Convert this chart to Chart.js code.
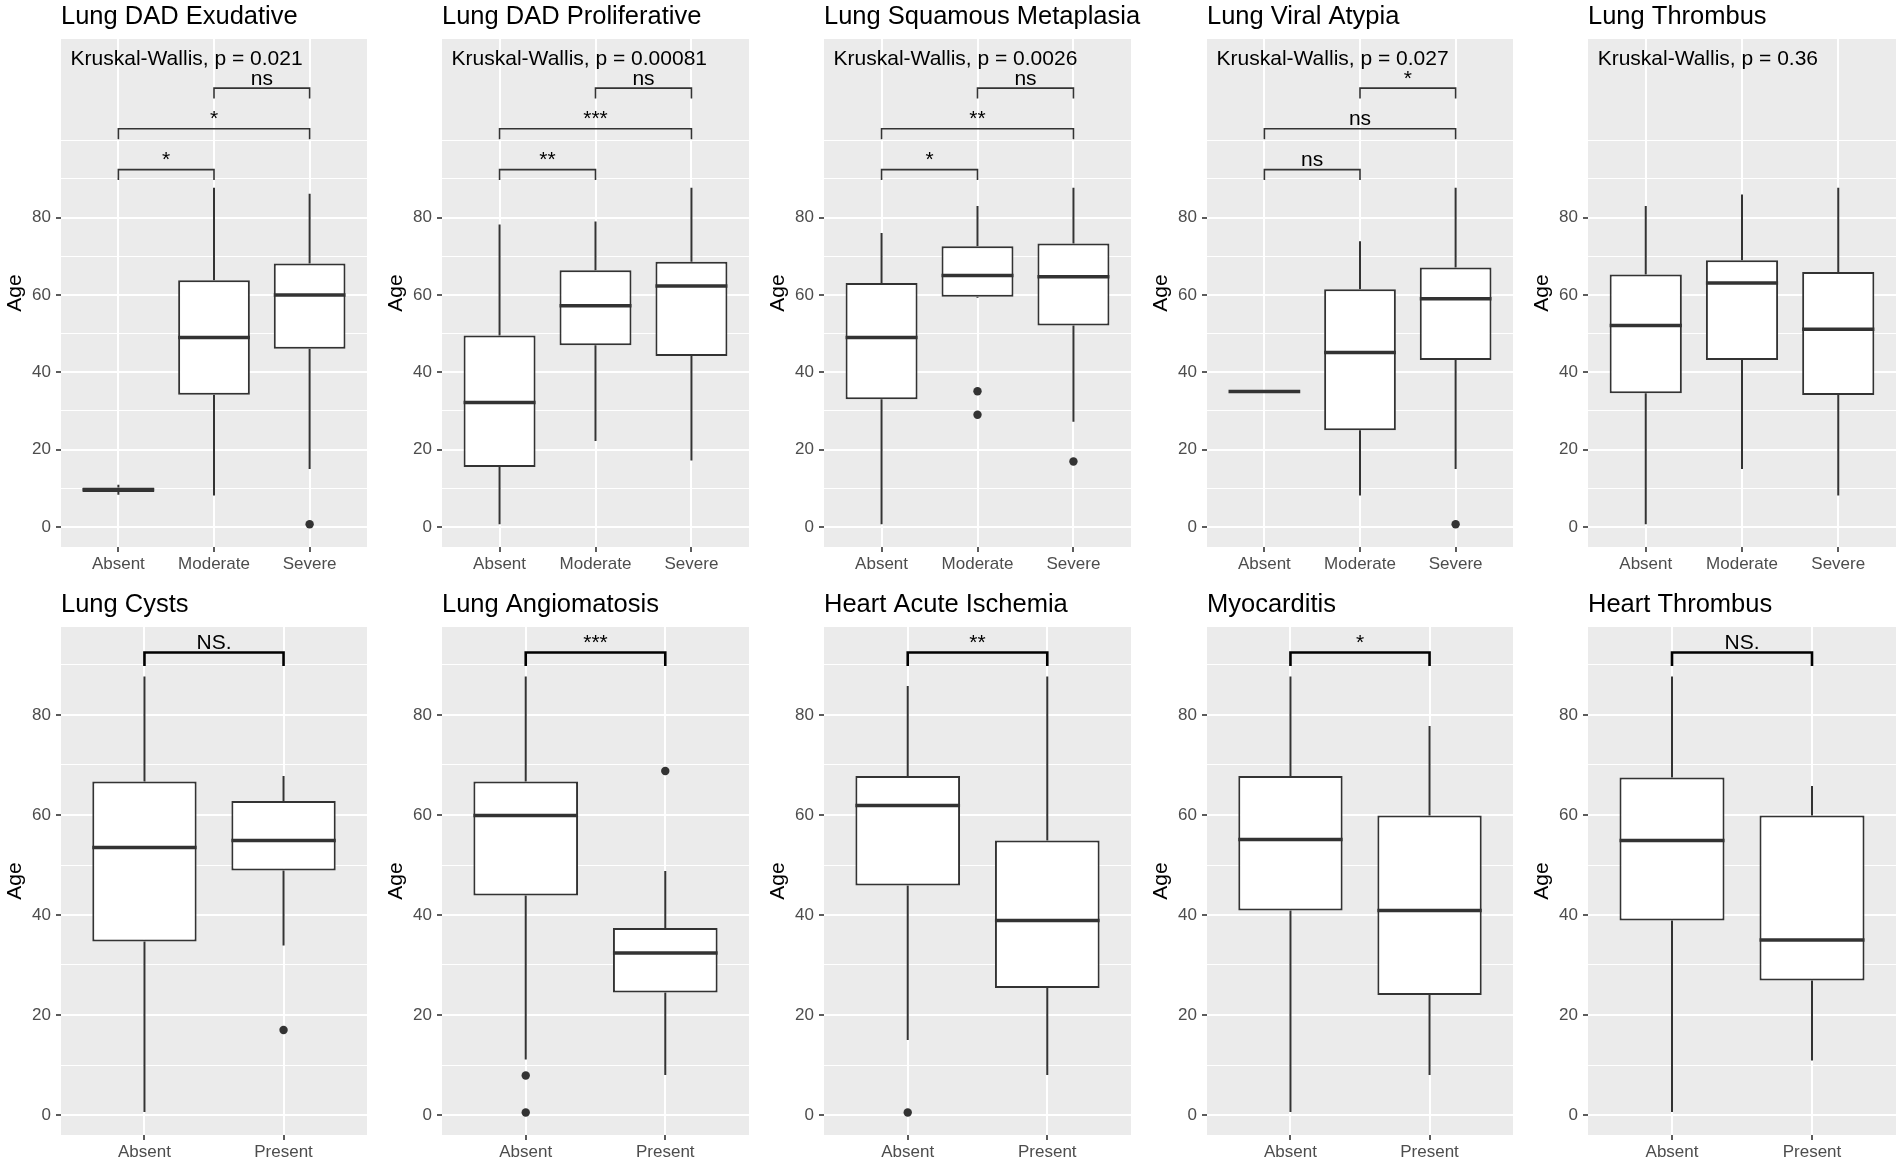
<!DOCTYPE html>
<html><head><meta charset="utf-8">
<script src="https://cdn.jsdelivr.net/npm/chart.js@4.4.1/dist/chart.umd.min.js"></script>
<style>
html,body{margin:0;padding:0;background:#fff;width:1902px;height:1163px;overflow:hidden;}
canvas{position:absolute;}
</style></head><body>
<script>
// ---------- data ----------
const panelTitles = ['Lung DAD Exudative','Lung DAD Proliferative','Lung Squamous Metaplasia','Lung Viral Atypia','Lung Thrombus',
                     'Lung Cysts','Lung Angiomatosis','Heart Acute Ischemia','Myocarditis','Heart Thrombus'];
const topGroups = ['Absent','Moderate','Severe'];
const bottomGroups = ['Absent','Present'];
const yTickValues = [0,20,40,60,80];
const yGridValues = [0,10,20,30,40,50,60,70,80,90,100];
const yLimitsTop = [-5.2, 126.2];
const yLimitsBottom = [-4, 97.6];

const whiskerLow = [[8.3,8.1,15.0],[0.7,22.2,17.2],[0.7,59.3,27.2],[35,8.1,15.0],[0.7,15.0,8.1],
                    [0.6,33.9],[11.1,8.0],[15.0,8.0],[0.6,8.0],[0.6,10.9]];
const boxQ1 = [[9.0,34.2,46.1],[15.5,47.0,44.2],[33.0,59.5,52.1],[35,25.0,43.2],[34.6,43.2,34.1],
               [34.7,48.9],[43.9,24.5],[45.9,25.4],[40.9,24.0],[38.9,26.9]];
const boxMedian = [[9.6,49.0,60.0],[32.2,57.2,62.3],[49.0,65.0,64.7],[35,45.1,59.0],[52.1,63.1,51.1],
                   [53.5,54.9],[59.9,32.4],[61.9,38.9],[55.1,40.9],[54.9,35.0]];
const boxQ3 = [[10.2,63.8,68.1],[49.5,66.4,68.6],[63.1,72.6,73.3],[35,61.5,67.1],[65.3,69.0,65.9],
               [66.7,62.8],[66.7,37.4],[67.8,54.9],[67.8,59.9],[67.5,59.9]];
const whiskerHigh = [[10.9,87.7,86.2],[78.2,79.0,87.7],[76.0,83.0,87.7],[35,73.9,87.7],[83.0,86.0,87.7],
                     [87.7,67.8],[87.7,48.8],[85.8,87.7],[87.7,77.8],[87.7,65.8]];
const outlierGroup = [[3],[],[2,2,3],[3],[],[2],[1,1,2],[1],[],[]];
const outlierAge = [[0.7],[],[35.1,29.0,16.9],[0.7],[],[17],[7.9,0.5,68.8],[0.5],[],[]];

const kwLabels = ['Kruskal-Wallis, p = 0.021','Kruskal-Wallis, p = 0.00081','Kruskal-Wallis, p = 0.0026',
                  'Kruskal-Wallis, p = 0.027','Kruskal-Wallis, p = 0.36'];
const kwPosition = [0.5, 119.5];

const bracketFrom = [[1,1,2],[1,1,2],[1,1,2],[1,1,2],[],[1],[1],[1],[1],[1]];
const bracketTo   = [[2,3,3],[2,3,3],[2,3,3],[2,3,3],[],[2],[2],[2],[2],[2]];
const bracketY    = [[92.4,103,113.5],[92.4,103,113.5],[92.4,103,113.5],[92.4,103,113.5],[],
                     [92.5],[92.5],[92.5],[92.5],[92.5]];
const bracketText = [['*','*','ns'],['**','***','ns'],['*','**','ns'],['ns','ns','*'],[],
                     ['NS.'],['***'],['**'],['*'],['NS.']];
const bracketTip = 2.7;

// ---------- layout / style ----------
const FONT = '"Liberation Sans", Arial, sans-serif';
Chart.defaults.font.family = FONT;
const plotLefts = [61,442,824,1207,1588];
const plotWidths = [306,307,307,306,308];
const yAxisW = 61;
const rightRoom = [18,18,18,18,4];

const boxPlugin = {
  id: 'boxExtras',
  beforeDraw(chart) {
    const {ctx, chartArea: a} = chart;
    ctx.save();
    ctx.fillStyle = '#EBEBEB';
    ctx.fillRect(a.left, a.top, a.right - a.left, a.bottom - a.top);
    ctx.restore();
  },
  beforeDatasetsDraw(chart, args, opts) {
    const p = opts.panel;
    const {ctx} = chart, xs = chart.scales.x, ys = chart.scales.y;
    ctx.save();
    ctx.strokeStyle = '#333333'; ctx.lineWidth = 2;
    boxQ1[p].forEach((q1, k) => {
      const x = xs.getPixelForValue(k + 1);
      ctx.beginPath();
      ctx.moveTo(x, ys.getPixelForValue(boxQ3[p][k])); ctx.lineTo(x, ys.getPixelForValue(whiskerHigh[p][k]));
      ctx.moveTo(x, ys.getPixelForValue(q1)); ctx.lineTo(x, ys.getPixelForValue(whiskerLow[p][k]));
      ctx.stroke();
    });
    ctx.restore();
  },
  afterDatasetsDraw(chart, args, opts) {
    const p = opts.panel;
    const {ctx} = chart, ys = chart.scales.y;
    const bars = chart.getDatasetMeta(0).data;
    ctx.save();
    ctx.strokeStyle = '#333333'; ctx.lineWidth = 3.5;
    boxMedian[p].forEach((m, k) => {
      const el = bars[k]; const y = ys.getPixelForValue(m);
      ctx.beginPath(); ctx.moveTo(el.x - el.width / 2, y); ctx.lineTo(el.x + el.width / 2, y); ctx.stroke();
    });
    ctx.restore();
  },
  afterDraw(chart, args, opts) {
    const p = opts.panel, row = p < 5 ? 0 : 1;
    const {ctx, chartArea: a} = chart, xs = chart.scales.x, ys = chart.scales.y;
    ctx.save();
    ctx.fillStyle = '#000';
    ctx.textAlign = 'left'; ctx.textBaseline = 'alphabetic';
    ctx.font = '25.5px ' + FONT;
    ctx.fillText(panelTitles[p], a.left, a.top - 15);
    if (row === 0) {
      ctx.font = '21px ' + FONT;
      ctx.fillText(kwLabels[p], xs.getPixelForValue(kwPosition[0]), ys.getPixelForValue(kwPosition[1]));
    }
    ctx.strokeStyle = row === 0 ? '#333333' : '#000000';
    ctx.lineWidth = row === 0 ? 1.6 : 2.6;
    ctx.font = '21px ' + FONT;
    ctx.textAlign = 'center';
    bracketFrom[p].forEach((f, j) => {
      const x1 = xs.getPixelForValue(f), x2 = xs.getPixelForValue(bracketTo[p][j]);
      const y = ys.getPixelForValue(bracketY[p][j]), yt = ys.getPixelForValue(bracketY[p][j] - bracketTip);
      ctx.beginPath();
      ctx.moveTo(x1, yt); ctx.lineTo(x1, y); ctx.lineTo(x2, y); ctx.lineTo(x2, yt);
      ctx.stroke();
      ctx.fillText(bracketText[p][j], (x1 + x2) / 2, y - 3.5);
    });
    ctx.restore();
  }
};

function makePanel(p) {
  const row = p < 5 ? 0 : 1, col = p % 5;
  const groups = row === 0 ? topGroups : bottomGroups;
  const lim = row === 0 ? yLimitsTop : yLimitsBottom;
  const padTop = row === 0 ? 39 : 47;
  const canvasTop = row === 0 ? 0 : 580;
  const h = row === 0 ? 577 : 583;
  const xh = h - padTop - 508;
  const padRight = rightRoom[col];
  const w = yAxisW + plotWidths[col] + padRight;
  const cv = document.createElement('canvas');
  cv.style.left = (plotLefts[col] - yAxisW) + 'px';
  cv.style.top = canvasTop + 'px';
  cv.style.width = w + 'px'; cv.style.height = h + 'px';
  cv.style.zIndex = String(10 - col);
  cv.width = w; cv.height = h;
  document.body.appendChild(cv);

  const boxes = groups.map((g, k) => ({x: k + 1, y: [boxQ1[p][k], boxQ3[p][k]]}));
  const outs = outlierGroup[p].map((g, j) => ({x: g, y: outlierAge[p][j]}));

  new Chart(cv, {
    type: 'bar',
    data: {
      datasets: [
        {type: 'bar', data: boxes, backgroundColor: '#FFFFFF', borderColor: '#333333', borderWidth: 2,
         borderSkipped: false, barPercentage: 0.75, categoryPercentage: 1},
        {type: 'scatter', data: outs, pointRadius: 4.2, pointBackgroundColor: '#333333', pointBorderWidth: 0,
         pointBorderColor: '#333333'}
      ]
    },
    options: {
      responsive: false, animation: false, devicePixelRatio: 1,
      layout: {padding: {left: 0, right: padRight, top: padTop, bottom: 0}},
      plugins: {legend: {display: false}, tooltip: {enabled: false}, title: {display: false},
                boxExtras: {panel: p}},
      scales: {
        x: {
          type: 'linear', min: 0.4, max: groups.length + 0.6, offset: false,
          afterBuildTicks: s => { s.ticks = groups.map((g, k) => ({value: k + 1})); },
          afterFit: s => { s.height = xh; },
          ticks: {callback: v => groups[v - 1], color: '#4D4D4D', font: {size: 17}, padding: 2,
                  autoSkip: false, maxRotation: 0, minRotation: 0},
          grid: {color: '#FFFFFF', lineWidth: 2, tickColor: '#333333', tickLength: 5, tickWidth: 1.6, offset: false},
          border: {display: false}
        },
        y: {
          type: 'linear', min: lim[0], max: lim[1], beginAtZero: false,
          afterBuildTicks: s => { s.ticks = yGridValues.filter(v => v >= lim[0] && v <= lim[1]).map(v => ({value: v})); },
          afterFit: s => { s.width = yAxisW; },
          ticks: {callback: v => yTickValues.includes(v) ? String(v) : '', color: '#4D4D4D', font: {size: 17},
                  padding: 5, autoSkip: false},
          grid: {color: '#FFFFFF',
                 lineWidth: c => yTickValues.includes(c.tick.value) ? 2 : 1,
                 tickColor: c => yTickValues.includes(c.tick.value) ? '#333333' : 'rgba(0,0,0,0)',
                 tickLength: 5, tickWidth: 1.6},
          border: {display: false},
          title: {display: true, text: 'Age', color: '#000000', font: {size: 21}, padding: {top: 3, bottom: 0}}
        }
      }
    },
    plugins: [boxPlugin]
  });
}
for (let p = 0; p < 10; p++) makePanel(p);
</script>
</body></html>
